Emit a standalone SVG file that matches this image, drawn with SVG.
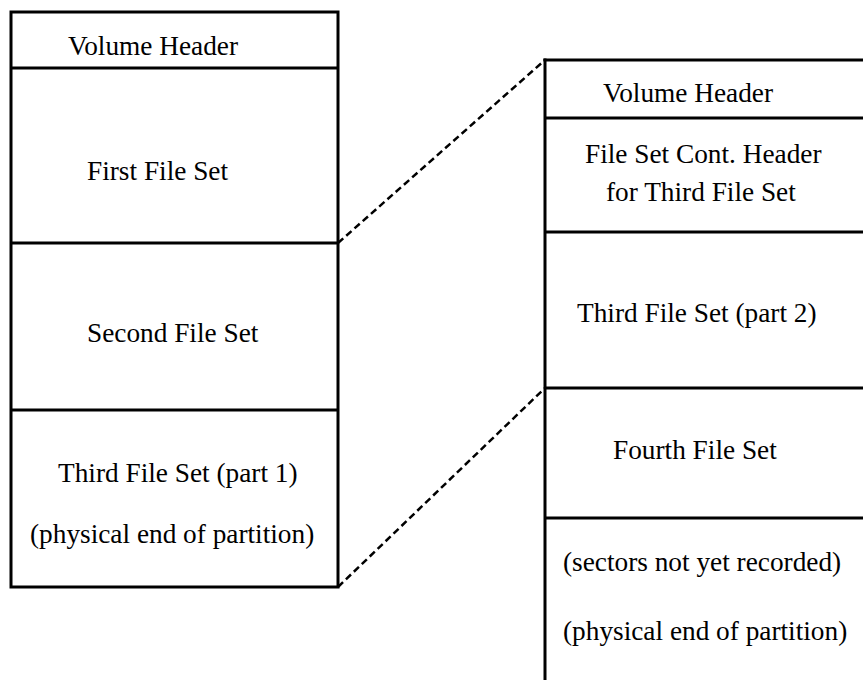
<svg xmlns="http://www.w3.org/2000/svg" width="863" height="680" viewBox="0 0 863 680">
  <style>
    .frame { fill: none; stroke: #000; stroke-width: 3; }
    .div { stroke: #000; stroke-width: 3; }
    .link { stroke: #000; stroke-width: 2.5; stroke-dasharray: 7 4; fill: none; }
  </style>
  <rect width="863" height="680" fill="#fff"/>

  <g font-family="Liberation Serif, Times New Roman, serif" font-size="27.3" fill="#000">
  <!-- Partition as first recorded -->
  <g id="partition-1">
    <rect class="frame" x="11" y="12" width="327" height="575"/>
    <line class="div" x1="11" y1="68" x2="338" y2="68"/>
    <line class="div" x1="11" y1="243" x2="338" y2="243"/>
    <line class="div" x1="11" y1="410" x2="338" y2="410"/>
  </g>
  <g id="p1-volume-header"><text x="68" y="55">Volume Header</text></g>
  <g id="p1-first-file-set"><text x="87" y="180">First File Set</text></g>
  <g id="p1-second-file-set"><text x="87" y="342">Second File Set</text></g>
  <g id="p1-third-file-set">
    <text x="58" y="482">Third File Set (part 1)</text>
    <text x="30" y="543">(physical end of partition)</text>
  </g>

  <!-- Continuation partition -->
  <g id="partition-2">
    <line class="div" x1="545" y1="58.5" x2="545" y2="680"/>
    <line class="div" x1="543.5" y1="60" x2="863" y2="60"/>
    <line class="div" x1="545" y1="118" x2="863" y2="118"/>
    <line class="div" x1="545" y1="232" x2="863" y2="232"/>
    <line class="div" x1="545" y1="388" x2="863" y2="388"/>
    <line class="div" x1="545" y1="518" x2="863" y2="518"/>
  </g>
  <g id="p2-volume-header"><text x="603" y="102">Volume Header</text></g>
  <g id="p2-cont-header">
    <text x="585" y="163">File Set Cont. Header</text>
    <text x="606" y="201">for Third File Set</text>
  </g>
  <g id="p2-third-file-set"><text x="577" y="322">Third File Set (part 2)</text></g>
  <g id="p2-fourth-file-set"><text x="613" y="459">Fourth File Set</text></g>
  <g id="p2-unrecorded">
    <text x="563" y="571">(sectors not yet recorded)</text>
    <text x="563" y="640">(physical end of partition)</text>
  </g>
  </g>

  <!-- Continuation links -->
  <g id="connectors">
    <line class="link" x1="338" y1="243" x2="545" y2="60"/>
    <line class="link" x1="338" y1="587" x2="545" y2="388"/>
  </g>
</svg>
